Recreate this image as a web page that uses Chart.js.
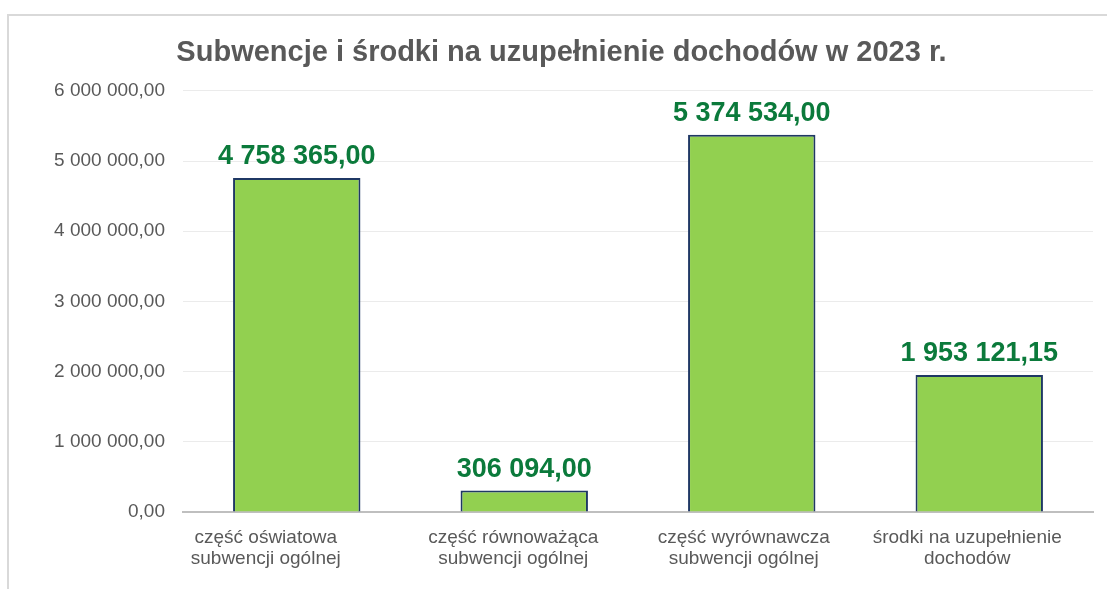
<!DOCTYPE html>
<html>
  <head>
    <title>Subwencje i środki na uzupełnienie dochodów w 2023 r.</title>
    <script src="https://cdn.jsdelivr.net/npm/chart.js@4"></script>
    <style>
      body { margin: 0; background: #fff; }
      #frame { position: absolute; left: 7px; top: 14px; width: 1200px; height: 700px; border: 2px solid #d9d9d9; }
      #wrap { position: absolute; left: 0; top: 0; width: 1107px; height: 589px; }
    </style>
    <script>
    // dane z wykresu
    var categories = [
      ['część oświatowa', 'subwencji ogólnej'],
      ['część równoważąca', 'subwencji ogólnej'],
      ['część wyrównawcza', 'subwencji ogólnej'],
      ['środki na uzupełnienie', 'dochodów']
    ];
    var amounts = [4758365.00, 306094.00, 5374534.00, 1953121.15];
    var yTicks = [0, 1000000, 2000000, 3000000, 4000000, 5000000, 6000000];

    var FONT = '"Liberation Sans", Arial, sans-serif';

    function plNumber(v) {
      var parts = v.toFixed(2).split('.');
      var intPart = parts[0].replace(/\B(?=(\d{3})+(?!\d))/g, ' ');
      return intPart + ',' + parts[1];
    }

    // etykiety wartości nad słupkami
    var valueLabels = {
      id: 'valueLabels',
      afterDatasetsDraw: function(chart) {
        var ctx = chart.ctx;
        var meta = chart.getDatasetMeta(0);
        ctx.save();
        ctx.font = 'bold 27px ' + FONT;
        ctx.fillStyle = '#0B7A3B';
        ctx.textAlign = 'center';
        ctx.textBaseline = 'alphabetic';
        meta.data.forEach(function(bar, i) {
          ctx.fillText(plNumber(amounts[i]), bar.x, bar.y - 14);
        });
        ctx.restore();
      }
    };

    // podpisy kategorii (w oryginale lekko przesunięte w lewo)
    var categoryLabels = {
      id: 'categoryLabels',
      shift: [-31, -11, -8, -12],
      afterDraw: function(chart) {
        var ctx = chart.ctx;
        var xs = chart.scales.x;
        var bottom = chart.chartArea.bottom;
        var shift = this.shift;
        ctx.save();
        ctx.font = '19px ' + FONT;
        ctx.fillStyle = '#595959';
        ctx.textAlign = 'center';
        ctx.textBaseline = 'middle';
        categories.forEach(function(lines, i) {
          var x = xs.getPixelForValue(i) + shift[i];
          lines.forEach(function(line, j) {
            ctx.fillText(line, x, bottom + 26 + j * 21);
          });
        });
        ctx.restore();
      }
    };

    function start() {
      var ctx = document.getElementById('chart').getContext('2d');
      new Chart(ctx, {
        type: 'bar',
        data: {
          labels: categories,
          datasets: [{
            data: amounts,
            backgroundColor: '#92D050',
            borderColor: '#1F3864',
            borderWidth: 2,
            barPercentage: 0.56,
            categoryPercentage: 1
          }]
        },
        plugins: [valueLabels, categoryLabels],
        options: {
          responsive: false,
          animation: false,
          layout: { padding: { left: 30, right: 14, top: 36, bottom: 0 } },
          plugins: {
            legend: { display: false },
            tooltip: { enabled: false },
            title: {
              display: true,
              text: 'Subwencje i środki na uzupełnienie dochodów w 2023 r.',
              color: '#595959',
              font: { family: FONT, size: 29, weight: 'bold' },
              padding: { top: 0, bottom: 20 }
            }
          },
          scales: {
            y: {
              min: 0,
              max: 6000000,
              afterBuildTicks: function(axis) {
                axis.ticks = yTicks.map(function(v) { return { value: v }; });
              },
              afterFit: function(axis) { axis.width = 153; },
              grid: { color: '#ebebeb', lineWidth: 1, drawTicks: false },
              border: { display: false },
              ticks: {
                color: '#595959',
                padding: 18,
                font: { family: FONT, size: 19 },
                callback: function(v) { return plNumber(v); }
              }
            },
            x: {
              afterFit: function(axis) { axis.height = 77; },
              grid: { display: false, drawTicks: false },
              border: { display: true, color: '#bfbfbf', width: 2 },
              ticks: { display: false }
            }
          }
        }
      });
    }
    </script>
  </head>
  <body onload="start()">
    <div id="frame"></div>
    <div id="wrap"><canvas id="chart" width="1107" height="589"></canvas></div>
  </body>
</html>
